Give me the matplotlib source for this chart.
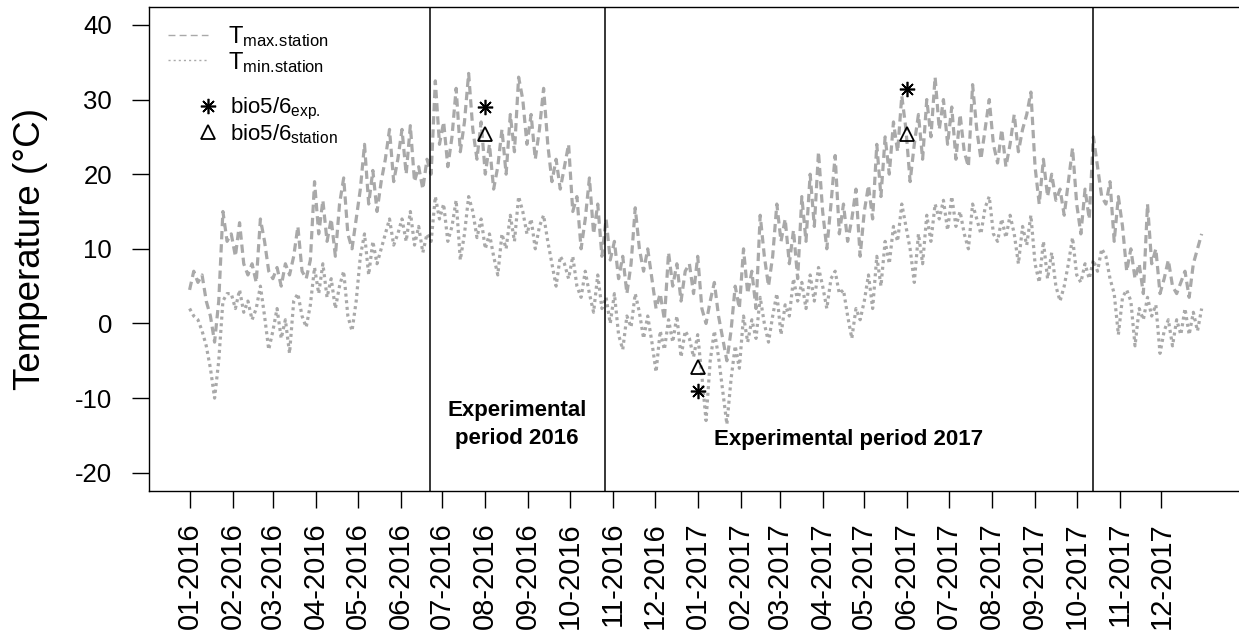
"""Daily station temperatures 2016-2017 with the two experimental periods."""

import matplotlib
matplotlib.use("Agg")
import matplotlib.pyplot as plt
from matplotlib.lines import Line2D
import pandas as pd

plt.rcParams["font.family"] = ["Liberation Sans", "DejaVu Sans"]
plt.rcParams["mathtext.fontset"] = "custom"
plt.rcParams["mathtext.rm"] = "Liberation Sans"
plt.rcParams["mathtext.it"] = "Liberation Sans:italic"
plt.rcParams["mathtext.bf"] = "Liberation Sans:bold"
plt.rcParams["lines.scale_dashes"] = False
plt.rcParams["axes.unicode_minus"] = False

# station readings, one every third day starting 01-01-2016
START = "2016-01-01"
STEP = "3D"

tmax_station = [
    4.5, 7.0, 5.5, 6.5, 3.0, 1.0, -2.5, 3.0, 15.0, 11.0,
    12.0, 9.0, 13.5, 8.0, 6.5, 8.0, 5.5, 14.0, 11.0, 7.0,
    6.0, 7.5, 5.0, 8.0, 6.5, 9.0, 13.0, 7.0, 6.0, 8.5,
    19.0, 12.0, 16.5, 11.0, 14.0, 9.0, 16.0, 19.5, 12.0, 10.0,
    14.0, 18.0, 24.0, 16.0, 20.5, 15.0, 19.0, 22.0, 26.0, 19.0,
    22.0, 26.0, 20.0, 26.5, 19.0, 21.0, 18.0, 22.0, 20.0, 32.5,
    24.0, 27.0, 21.0, 25.0, 31.5, 23.0, 27.0, 33.5, 26.0, 22.0,
    27.0, 20.0, 24.0, 18.0, 21.0, 26.0, 20.0, 28.0, 23.0, 33.0,
    30.0, 24.0, 28.0, 22.0, 26.0, 31.5, 24.0, 19.0, 22.0, 18.0,
    21.0, 24.0, 15.0, 17.0, 10.0, 14.0, 19.5, 12.0, 16.0, 9.0,
    14.0, 8.5, 11.0, 6.0, 9.0, 4.0, 8.0, 15.5, 10.0, 7.0,
    10.0, 6.0, 2.0, 4.0, 0.5, 9.5, 5.0, 8.0, 3.0, 7.0,
    8.0, 4.0, 9.0, 2.0, 0.0, 3.0, 5.5, 1.0, -2.0, -5.0,
    -1.0, 5.0, 2.0, 10.0, 4.0, 7.0, 2.0, 14.5, 9.0, 5.0,
    9.0, 16.0, 11.0, 14.0, 8.0, 12.5, 6.0, 17.0, 11.0, 20.0,
    13.0, 23.0, 15.0, 10.0, 16.0, 22.5, 12.0, 16.0, 11.0, 14.0,
    18.0, 9.0, 15.0, 18.5, 14.0, 24.0, 17.0, 25.0, 20.0, 27.0,
    23.0, 30.5, 26.0, 19.0, 24.0, 28.0, 22.0, 30.0, 25.0, 33.0,
    26.0, 30.0, 24.0, 29.0, 22.0, 28.0, 23.0, 21.0, 32.0, 26.0,
    22.0, 26.0, 30.0, 24.0, 21.5, 26.0, 21.0, 24.0, 28.0, 23.0,
    26.0, 28.0, 31.0, 21.0, 16.0, 22.0, 17.0, 20.0, 16.5, 18.0,
    14.5, 19.0, 23.5, 16.0, 12.0, 18.0, 14.0, 25.0, 21.0, 17.0,
    16.0, 19.0, 11.0, 17.0, 13.0, 7.0, 10.0, 6.0, 8.0, 4.0,
    16.0, 8.0, 10.0, 4.0, 6.0, 8.5, 5.0, 4.0, 5.5, 7.0,
    3.5, 8.0, 10.0, 12.0,
]

tmin_station = [
    2.0, 1.0, 0.5, -1.0, -3.0, -6.0, -10.0, -5.0, 3.0, 4.0,
    4.0, 2.0, 4.5, 1.5, 3.0, 0.5, 2.0, 5.0, 1.0, -3.5,
    -1.0, 2.0, -2.0, 0.5, -4.0, 3.0, 4.0, 1.0, -0.5, 2.5,
    7.5, 4.0, 8.0, 3.5, 6.0, 2.0, 5.0, 7.0, 1.0, -1.0,
    3.0, 9.0, 12.0, 6.5, 11.0, 8.0, 10.0, 12.0, 14.0, 10.5,
    12.0, 14.0, 11.0, 15.0, 10.5, 13.0, 9.5, 12.0, 11.0, 17.0,
    14.0, 16.0, 11.0, 13.0, 16.5, 8.5, 12.0, 17.0, 15.0, 11.5,
    14.0, 10.0, 12.0, 9.0, 6.5, 12.0, 10.0, 14.5, 11.0, 17.0,
    15.0, 12.0, 14.0, 10.0, 13.0, 14.5, 11.0, 8.0, 5.0, 9.0,
    8.0, 6.0, 9.0, 5.0, 3.5, 7.0, 4.0, 1.5, 6.5, 2.0,
    3.5, 0.0, 4.0, -1.5, -3.5, 1.0, -0.5, 4.0, 1.5, -2.0,
    1.0, -2.5, -6.5, -1.0, -3.5, 0.5, -2.5, 1.0, -4.5, -1.0,
    -2.0, -4.5, -1.5, -7.0, -13.0, -5.0, -1.0, -4.5, -9.0, -13.5,
    -7.5, -3.0, -6.0, 1.0, -2.5, 0.5, -2.0, 3.5, 0.0, -2.5,
    1.0, 4.0, -1.5, 2.5, 1.0, 6.0, 3.0, 5.5, 2.0, 6.5,
    3.0, 7.5, 5.0, 2.0, 6.0, 7.0, 4.0, 4.5, 1.0, -2.0,
    2.0, 0.5, 3.0, 6.5, 2.0, 9.0, 5.0, 11.0, 8.0, 13.0,
    11.0, 16.0, 13.0, 10.0, 5.5, 12.0, 8.0, 14.5, 11.0, 16.0,
    14.0, 16.5, 12.5, 17.0, 13.0, 15.0, 12.0, 10.0, 16.0, 14.0,
    12.0, 15.5, 17.0, 12.0, 11.0, 14.0, 11.5, 14.5, 12.0, 8.0,
    13.0, 10.5, 14.5, 8.0, 5.5, 11.0, 6.0, 9.5, 5.0, 3.0,
    5.0, 8.0, 11.5, 6.5, 5.5, 8.0, 6.0, 8.5, 7.0, 10.0,
    9.0, 6.0, 4.0, -1.5, 3.5, 4.5, 3.0, -3.0, 2.0, 0.5,
    3.5, 1.0, 2.5, -4.0, -1.0, 0.5, -3.0, 0.5, -1.5, 2.0,
    -1.5, 1.5, -1.0, 2.0,
]

# bio5 / bio6 (max of warmest, min of coldest month)
bio_dates = ["2016-08-01", "2017-01-01", "2017-06-01"]
bio_exp = [29.0, -9.0, 31.4]
bio_station = [25.4, -5.8, 25.4]

# start / end of the experimental periods
period_bounds = ["2016-06-22", "2016-10-26", "2017-10-13"]

month_ticks = pd.date_range("2016-01-01", "2017-12-01", freq="MS")
y_ticks = [-20, -10, 0, 10, 20, 30, 40]

GREY = "#a9a9a9"


def main() -> None:
    dates = pd.date_range(START, periods=len(tmax_station), freq=STEP)
    bounds = pd.to_datetime(period_bounds)
    bio_x = pd.to_datetime(bio_dates)

    fig = plt.figure(figsize=(12.39, 6.39), dpi=100)
    ax = fig.add_axes([0.1203, 0.2321, 0.8834, 0.757])

    ax.plot(dates, tmax_station, color=GREY, lw=2.3, dashes=(6, 3.5))
    ax.plot(dates, tmin_station, color=GREY, lw=2.3, dashes=(2.2, 2.6))

    for b in bounds:
        ax.axvline(b, color="black", lw=1.1)

    ax.plot(bio_x, bio_exp, linestyle="none", marker=(8, 2, 0), ms=11,
            color="black", mec="black", mew=1.2)
    ax.plot(bio_x, bio_station, linestyle="none", marker="^", ms=10,
            mfc="none", mec="black", mew=1.3)

    # period captions centred between the boundary lines
    mid16 = bounds[0] + (bounds[1] - bounds[0]) / 2
    mid17 = bounds[1] + (bounds[2] - bounds[1]) / 2
    ax.text(mid16, -13.5, "Experimental\nperiod 2016", ha="center", va="center",
            fontsize=16, fontweight="bold", linespacing=1.45)
    ax.text(mid17, -15.5, "Experimental period 2017", ha="center", va="center",
            fontsize=16, fontweight="bold")

    t0 = pd.Timestamp(START)
    ax.set_xlim(t0 - pd.Timedelta(days=29.2), t0 + pd.Timedelta(days=759.2))
    ax.set_ylim(-22.4, 42.4)

    ax.set_xticks(month_ticks)
    ax.set_xticklabels([d.strftime("%m-%Y") for d in month_ticks], rotation=90)
    ax.set_yticks(y_ticks)
    ax.tick_params(axis="both", direction="out", length=12.5, width=1.0)
    ax.tick_params(axis="x", labelsize=21, pad=10)
    ax.tick_params(axis="y", labelsize=18.5, pad=14)
    for sp in ax.spines.values():
        sp.set_linewidth(1.0)

    ax.set_ylabel("Temperature (°C)", fontsize=26.5)
    ax.yaxis.set_label_coords(-0.0923, 0.5)

    line_handles = [
        Line2D([], [], color=GREY, lw=1.0, dashes=(5, 3)),
        Line2D([], [], color=GREY, lw=1.0, dashes=(1.5, 2.2)),
    ]
    leg1 = ax.legend(line_handles,
                     [r"T$_{\mathrm{max.\!station}}$", r"T$_{\mathrm{min.\!station}}$"],
                     loc="upper left", bbox_to_anchor=(0.0174, 0.964),
                     frameon=False, fontsize=17, handlelength=1.7,
                     handletextpad=0.85, borderpad=0, borderaxespad=0,
                     labelspacing=0.02)
    ax.add_artist(leg1)

    marker_handles = [
        Line2D([], [], linestyle="none", marker=(8, 2, 0), ms=11,
               color="black", mew=1.2),
        Line2D([], [], linestyle="none", marker="^", ms=10,
               mfc="none", mec="black", mew=1.3),
    ]
    ax.legend(marker_handles,
              [r"bio5/6$_{\mathrm{exp.}}$", r"bio5/6$_{\mathrm{station}}$"],
              loc="upper left", bbox_to_anchor=(0.0439, 0.816),
              frameon=False, fontsize=16, handlelength=1.0,
              handletextpad=0.5, borderpad=0, borderaxespad=0,
              labelspacing=0.0)

    fig.savefig("out.png", dpi=100)
    plt.close(fig)


if __name__ == "__main__":
    main()
